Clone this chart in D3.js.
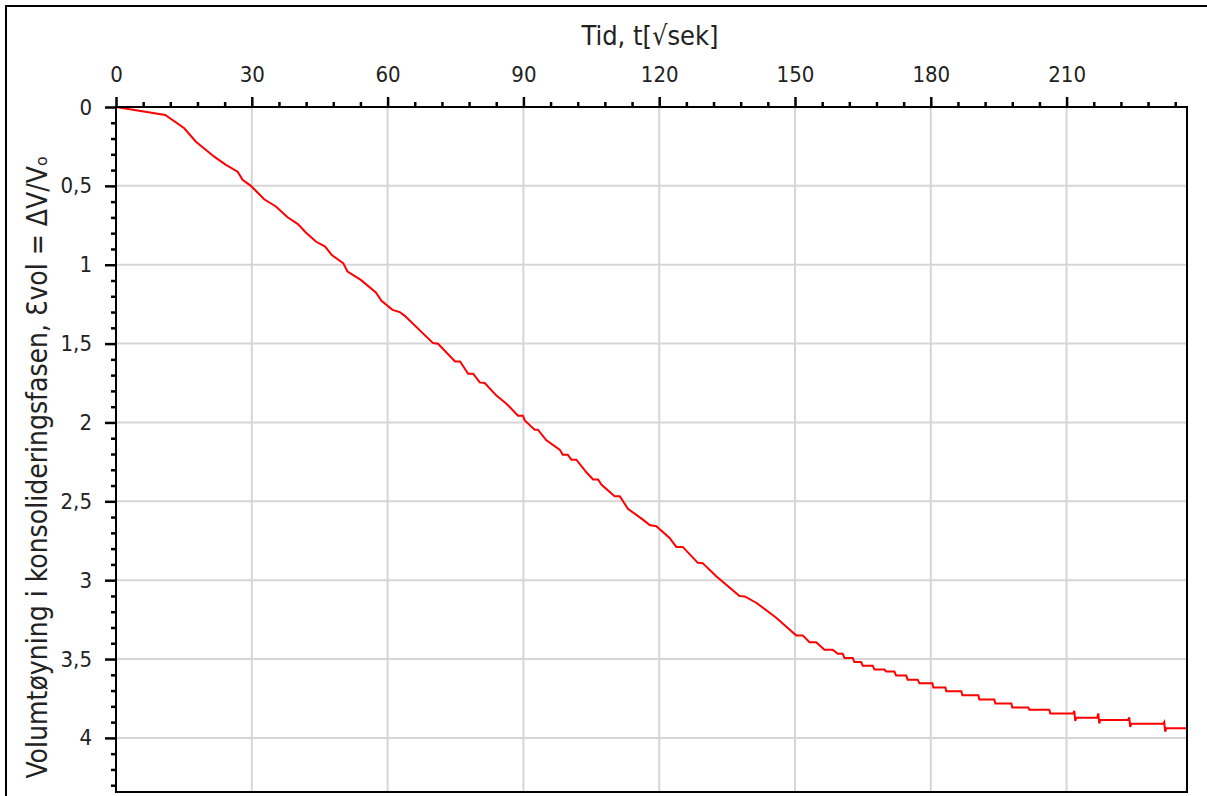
<!DOCTYPE html>
<html>
<head>
<meta charset="utf-8">
<script src="https://cdn.jsdelivr.net/npm/d3@7"></script>
<style>
  html, body { margin: 0; padding: 0; background: #fff; }
  svg { display: block; }
  text { font-family: Tahoma, "DejaVu Sans Condensed", "DejaVu Sans", sans-serif; fill: #222; }
</style>
</head>
<body>
<svg id="chart" width="1207" height="796"></svg>
<script>
// Square-root time (√s) and volumetric strain during consolidation
const tid = [
  0, 10.88, 15.08, 17.66, 21.70, 24.28, 26.87, 27.97, 29.80, 32.74,
  35.32, 37.90, 40.11, 41.94, 44.15, 46.20, 47.68, 50.18, 51.15, 54.08,
  57.40, 58.65, 61.08, 62.69, 63.80, 70.04, 71.15, 74.90, 76.00, 77.80,
  78.90, 80.35, 81.46, 84.04, 86.25, 88.81, 89.90, 90.30, 92.49, 93.20,
  95.08, 98.01, 98.70, 99.80, 100.60, 101.70, 103.91, 105.40, 106.50, 107.22,
  110.15, 111.30, 113.09, 116.40, 117.90, 119.36, 122.30, 123.77, 125.20, 128.54,
  129.60, 132.60, 137.75, 138.90, 141.43, 145.85, 149.16, 150.26, 151.72, 153.20,
  154.68, 156.51, 158.34, 159.45, 160.55, 160.93, 162.76, 163.13, 164.61, 164.97,
  167.17, 167.55, 169.76, 170.13, 171.96, 172.34, 174.55, 174.90, 177.11, 177.48,
  180.35, 180.57, 183.22, 183.44, 186.75, 186.98, 190.51, 190.73, 194.04, 194.26,
  197.79, 198.01, 201.55, 201.77, 206.18, 206.40, 211.48, 211.70, 211.92, 212.14,
  216.78, 217.00, 217.22, 217.44, 223.62, 223.84, 224.06, 224.28, 231.35, 231.57,
  231.79, 232.01, 236.60
];
const evol = [
  0, 0.051, 0.135, 0.220, 0.315, 0.367, 0.410, 0.462, 0.500, 0.585,
  0.631, 0.699, 0.741, 0.796, 0.853, 0.885, 0.939, 0.990, 1.043, 1.096,
  1.176, 1.229, 1.286, 1.300, 1.324, 1.497, 1.501, 1.613, 1.613, 1.691,
  1.691, 1.746, 1.750, 1.830, 1.881, 1.957, 1.957, 1.987, 2.046, 2.046,
  2.113, 2.172, 2.204, 2.204, 2.236, 2.236, 2.316, 2.362, 2.362, 2.394,
  2.468, 2.468, 2.548, 2.616, 2.650, 2.658, 2.732, 2.789, 2.789, 2.890,
  2.892, 2.975, 3.101, 3.103, 3.143, 3.238, 3.323, 3.350, 3.350, 3.394,
  3.394, 3.441, 3.441, 3.467, 3.467, 3.494, 3.494, 3.519, 3.519, 3.542,
  3.542, 3.567, 3.567, 3.579, 3.579, 3.605, 3.605, 3.631, 3.631, 3.654,
  3.654, 3.681, 3.681, 3.704, 3.704, 3.729, 3.729, 3.757, 3.757, 3.782,
  3.782, 3.808, 3.808, 3.821, 3.821, 3.846, 3.846, 3.829, 3.892, 3.872,
  3.872, 3.845, 3.908, 3.886, 3.886, 3.870, 3.930, 3.911, 3.911, 3.900,
  3.961, 3.939, 3.939
];

const xTicks = [0, 30, 60, 90, 120, 150, 180, 210];
const yTicks = [0, 0.5, 1, 1.5, 2, 2.5, 3, 3.5, 4];
const xMax = 236.6;
const yMax = 4.343;

const xTitle = "Tid, t[√sek]";
const yTitle = "Volumtøyning i konsolideringsfasen, Ɛvol = ΔV/V\u2092";

const FONT = 'Tahoma, "DejaVu Sans Condensed", "DejaVu Sans", sans-serif';
const svg = d3.select("#chart");
const plot = { left: 116, top: 107, right: 1187, bottom: 792 };

const x = d3.scaleLinear().domain([0, xMax]).range([plot.left, plot.right]);
const y = d3.scaleLinear().domain([0, yMax]).range([plot.top, plot.bottom]);

// outer frame
svg.append("rect")
  .attr("x", 6).attr("y", 6).attr("width", 1300).attr("height", 900)
  .attr("fill", "none").attr("stroke", "#000").attr("stroke-width", 2);

// grid
const grid = svg.append("g").attr("stroke", "#d6d6d6").attr("stroke-width", 2);
grid.selectAll("line.v").data(xTicks.filter(d => d > 0)).join("line")
  .attr("x1", d => x(d)).attr("x2", d => x(d))
  .attr("y1", plot.top).attr("y2", plot.bottom);
grid.selectAll("line.h").data(yTicks.filter(d => d > 0)).join("line")
  .attr("x1", plot.left).attr("x2", plot.right)
  .attr("y1", d => y(d)).attr("y2", d => y(d));

// curve
const pts = tid.map((t, i) => [t, evol[i]]);
svg.append("path")
  .datum(pts)
  .attr("fill", "none")
  .attr("stroke", "#ff0000")
  .attr("stroke-width", 2)
  .attr("d", d3.line().x(d => x(d[0])).y(d => y(d[1])));

// plot border
svg.append("rect")
  .attr("x", plot.left).attr("y", plot.top)
  .attr("width", plot.right - plot.left).attr("height", plot.bottom - plot.top)
  .attr("fill", "none").attr("stroke", "#000").attr("stroke-width", 2);

// top axis
const fmt = d => String(d).replace(".", ",");
const xMinor = d3.range(0, xMax, 6).filter(v => v % 30 !== 0);
const xAxisMinor = d3.axisTop(x).tickValues(xMinor).tickSize(5).tickFormat("");
const xAxis = d3.axisTop(x).tickValues(xTicks).tickSize(10).tickPadding(15).tickFormat(fmt);
const gxm = svg.append("g").attr("transform", `translate(0,${plot.top})`).call(xAxisMinor);
const gx = svg.append("g").attr("transform", `translate(0,${plot.top})`).call(xAxis);
[gx, gxm].forEach(g => {
  g.select(".domain").remove();
  g.selectAll(".tick line").attr("stroke", "#000").attr("stroke-width", 2.5);
});
gx.selectAll(".tick text").attr("font-size", 22).attr("fill", "#222").style("font-family", FONT);

// left axis
const yMinor = d3.range(0, yMax, 0.1).map(v => Math.round(v * 10) / 10).filter(v => Math.round(v * 10) % 5 !== 0);
const yAxisMinor = d3.axisLeft(y).tickValues(yMinor).tickSize(5).tickFormat("");
const yAxis = d3.axisLeft(y).tickValues(yTicks).tickSize(11).tickPadding(13).tickFormat(fmt);
const gym = svg.append("g").attr("transform", `translate(${plot.left},0)`).call(yAxisMinor);
const gy = svg.append("g").attr("transform", `translate(${plot.left},0)`).call(yAxis);
[gy, gym].forEach(g => {
  g.select(".domain").remove();
  g.selectAll(".tick line").attr("stroke", "#000").attr("stroke-width", 2.5);
});
gy.selectAll(".tick text").attr("font-size", 22).attr("fill", "#222").style("font-family", FONT);

// titles
svg.append("text")
  .attr("x", 650).attr("y", 45)
  .attr("text-anchor", "middle").attr("font-size", 27)
  .text(xTitle);

svg.append("text")
  .attr("transform", `translate(47,467) rotate(-90)`)
  .attr("text-anchor", "middle").attr("font-size", 28)
  .text(yTitle);
</script>
</body>
</html>
